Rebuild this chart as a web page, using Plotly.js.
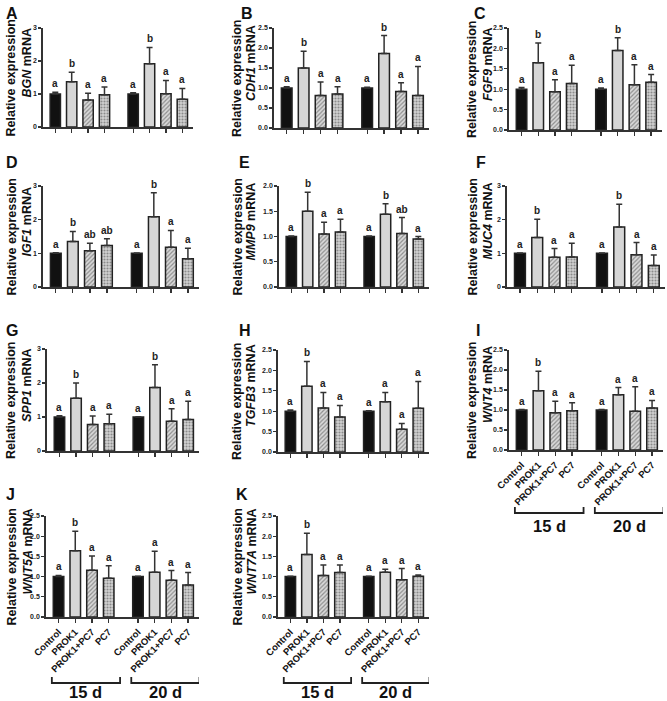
<!DOCTYPE html>
<html><head><meta charset="utf-8">
<script src="https://cdn.plot.ly/plotly-3.0.1.min.js"></script>
<style>html,body{margin:0;padding:0;background:#fff}#chart{width:667px;height:701px}</style>
</head><body><div id="chart"></div>
<script>
// ---------- data ----------
const groups = ["Control", "PROK1", "PROK1+PC7", "PC7"];
const days = ["15 d", "20 d"];
const panelLetters = ["A","B","C","D","E","F","G","H","I","J","K"];
const genes = ["BGN","CDH1","FGF9","IGF1","MMP9","MUC4","SPP1","TGFB3","WNT4","WNT5A","WNT7A"];
const yMax  = [3, 2.5, 2.5, 3, 2.0, 3, 3, 2.5, 2.5, 2.5, 2.5];

const meanBGN   = [1.00, 1.37, 0.82, 0.98, 1.00, 1.92, 1.01, 0.84];
const sdBGN     = [0.05, 0.29, 0.20, 0.23, 0.04, 0.49, 0.40, 0.33];
const sigBGN    = ["a","b","a","a","a","b","a","a"];

const meanCDH1  = [1.00, 1.50, 0.81, 0.85, 1.00, 1.86, 0.91, 0.81];
const sdCDH1    = [0.03, 0.42, 0.34, 0.18, 0.02, 0.45, 0.22, 0.73];
const sigCDH1   = ["a","b","a","a","a","b","a","a"];

const meanFGF9  = [1.00, 1.65, 0.94, 1.14, 1.00, 1.95, 1.11, 1.17];
const sdFGF9    = [0.04, 0.48, 0.29, 0.45, 0.03, 0.31, 0.49, 0.19];
const sigFGF9   = ["a","b","a","a","a","b","a","a"];

const meanIGF1  = [1.00, 1.35, 1.08, 1.23, 1.00, 2.09, 1.18, 0.84];
const sdIGF1    = [0.02, 0.30, 0.22, 0.20, 0.01, 0.71, 0.50, 0.31];
const sigIGF1   = ["a","b","ab","ab","a","b","a","a"];

const meanMMP9  = [1.00, 1.50, 1.05, 1.09, 1.00, 1.44, 1.06, 0.95];
const sdMMP9    = [0.01, 0.375, 0.23, 0.25, 0.01, 0.21, 0.315, 0.05];
const sigMMP9   = ["a","b","a","a","a","b","ab","a"];

const meanMUC4  = [1.00, 1.47, 0.88, 0.89, 1.00, 1.78, 0.96, 0.64];
const sdMUC4    = [0.01, 0.54, 0.26, 0.41, 0.01, 0.68, 0.36, 0.31];
const sigMUC4   = ["a","b","a","a","a","b","a","a"];

const meanSPP1  = [1.00, 1.55, 0.78, 0.80, 1.00, 1.87, 0.875, 0.93];
const sdSPP1    = [0.04, 0.45, 0.25, 0.28, 0.01, 0.67, 0.365, 0.53];
const sigSPP1   = ["a","b","a","a","a","b","a","a"];

const meanTGFB3 = [1.00, 1.61, 1.08, 0.86, 1.00, 1.23, 0.56, 1.07];
const sdTGFB3   = [0.03, 0.61, 0.38, 0.28, 0.01, 0.23, 0.14, 0.66];
const sigTGFB3  = ["a","b","a","a","a","a","a","a"];

const meanWNT4  = [1.00, 1.48, 0.93, 0.98, 1.00, 1.38, 0.97, 1.05];
const sdWNT4    = [0.01, 0.49, 0.29, 0.20, 0.01, 0.18, 0.61, 0.19];
const sigWNT4   = ["a","b","a","a","a","a","a","a"];

const meanWNT5A = [1.00, 1.64, 1.16, 0.96, 1.00, 1.11, 0.91, 0.79];
const sdWNT5A   = [0.03, 0.48, 0.35, 0.31, 0.01, 0.52, 0.24, 0.31];
const sigWNT5A  = ["a","b","a","a","a","a","a","a"];

const meanWNT7A = [1.00, 1.55, 1.03, 1.10, 1.00, 1.11, 0.92, 1.01];
const sdWNT7A   = [0.01, 0.52, 0.26, 0.19, 0.01, 0.07, 0.28, 0.03];
const sigWNT7A  = ["a","b","a","a","a","a","a","a"];

const means = [meanBGN, meanCDH1, meanFGF9, meanIGF1, meanMMP9, meanMUC4, meanSPP1, meanTGFB3, meanWNT4, meanWNT5A, meanWNT7A];
const sds   = [sdBGN, sdCDH1, sdFGF9, sdIGF1, sdMMP9, sdMUC4, sdSPP1, sdTGFB3, sdWNT4, sdWNT5A, sdWNT7A];
const sigs  = [sigBGN, sigCDH1, sigFGF9, sigIGF1, sigMMP9, sigMUC4, sigSPP1, sigTGFB3, sigWNT4, sigWNT5A, sigWNT7A];

// ---------- layout geometry (pixels) ----------
const W = 667, H = 701;
const FONT = 'Arial, "Liberation Sans", Helvetica, sans-serif';
// [left, right, top, bottom] of each plot area
const boxes = [
  [43, 193, 28, 127], [274, 429, 28, 128], [509, 662, 28, 130],
  [43, 199, 186, 287], [279, 429, 186, 287], [507, 665, 186, 287],
  [47, 199, 349, 451], [278, 429, 350, 452], [509, 663, 350, 450],
  [46, 199, 516, 617], [278, 429, 516, 617]
];
const letterPos = [[4,3],[239,3],[472,3],[4,152],[237,152],[474,152],[4,320],[237,320],[474,320],[4,484],[234,484]];
const titleX = [[11,27],[237,251],[472,488]];
const labelPanels = [8, 9, 10];
const bracketY = {8: [507, 513, 526], 9: [677, 683, 692], 10: [677, 683, 692]};

const GAP = 0.75;
const xpos = k => k + (k >= 4 ? GAP : 0);
const px = v => v / W;
const py = v => 1 - v / H;

const barColor = ["#111111", "#d6d6d6", "#d9d9d9", "#d2d2d2"];
const patShape = ["", "", "/", "."];
const patFg = ["#111111", "#d6d6d6", "#3c3c3c", "#4a4a4a"];

const data = [], annotations = [], shapes = [];
const layout = {
  width: W, height: H, margin: {l: 0, r: 0, t: 0, b: 0},
  paper_bgcolor: "#fff", plot_bgcolor: "#fff", showlegend: false,
  font: {family: FONT, color: "#222"},
  bargap: 0
};

genes.forEach((g, i) => {
  const xa = i === 0 ? "x" : "x" + (i + 1);
  const ya = i === 0 ? "y" : "y" + (i + 1);
  const [l, r, t, b] = boxes[i];
  const xs = [], cols = [], shp = [], fg = [], labels = [];
  for (let k = 0; k < 8; k++) {
    xs.push(xpos(k));
    cols.push(barColor[k % 4]);
    shp.push(patShape[k % 4]);
    fg.push(patFg[k % 4]);
    labels.push(groups[k % 4]);
  }
  data.push({
    type: "bar", x: xs, y: means[i], xaxis: xa, yaxis: ya, width: 0.63,
    marker: {color: cols, line: {color: "#222", width: 1.5},
             pattern: {shape: shp, fgcolor: fg, size: 3, solidity: 0.4, fillmode: "overlay"}},
    error_y: {type: "data", symmetric: false, array: sds[i], arrayminus: means[i].map(() => 0),
              thickness: 1.5, width: 3, color: "#333"},
    hoverinfo: "skip"
  });
  const showLab = labelPanels.includes(i);
  const axx = {
    domain: [px(l), px(r)], anchor: ya, range: [-0.75, 8.4],
    showline: true, linecolor: "#333", linewidth: 1.8, showgrid: false, zeroline: false,
    tickmode: "array", tickvals: xs, ticktext: showLab ? labels : labels.map(() => ""),
    showticklabels: showLab, ticks: "outside", ticklen: 4, tickwidth: 1.3, tickcolor: "#333",
    tickangle: -45, tickfont: {family: FONT, size: 9.5, weight: "bold", color: "#111"}
  };
  const dt = yMax[i] === 3 ? 1 : 0.5;
  const axy = {
    domain: [py(b), py(t)], anchor: xa, range: [0, yMax[i]],
    showline: true, linecolor: "#333", linewidth: 1.8, showgrid: false, zeroline: false,
    tickmode: "linear", tick0: 0, dtick: dt, tickformat: dt === 1 ? "d" : ".1f",
    ticks: "outside", ticklen: 3, tickwidth: 1.3, tickcolor: "#333",
    tickfont: {family: FONT, size: 7, weight: "bold", color: "#222"}
  };
  layout["xaxis" + (i === 0 ? "" : i + 1)] = axx;
  layout["yaxis" + (i === 0 ? "" : i + 1)] = axy;

  // significance letters
  for (let k = 0; k < 8; k++) {
    annotations.push({
      xref: xa, yref: ya, x: xpos(k), y: means[i][k] + sds[i][k],
      text: sigs[i][k], showarrow: false, yanchor: "bottom", yshift: 1,
      font: {family: FONT, size: 10, weight: "bold", color: "#222"}
    });
  }
  // panel letter
  annotations.push({
    xref: "paper", yref: "paper", x: px(letterPos[i][0]), y: py(letterPos[i][1]),
    xanchor: "left", yanchor: "top", text: panelLetters[i], showarrow: false,
    font: {family: FONT, size: 16, weight: "bold", color: "#111"}
  });
  // y titles
  const col = i % 3;
  const mid = (t + b) / 2 + 1;
  annotations.push({
    xref: "paper", yref: "paper", x: px(titleX[col][0]), y: py(mid), textangle: -90,
    xanchor: "center", yanchor: "middle", text: "Relative expression", showarrow: false,
    font: {family: FONT, size: 12.5, weight: "bold", color: "#111"}
  });
  annotations.push({
    xref: "paper", yref: "paper", x: px(titleX[col][1]), y: py(mid - 16), textangle: -90,
    xanchor: "center", yanchor: "middle", text: "<i>" + g + "</i> mRNA", showarrow: false,
    font: {family: FONT, size: 12.5, weight: "bold", color: "#111"}
  });
  // brackets + day labels
  if (bracketY[i]) {
    const [yt, yl, ytxt] = bracketY[i];
    days.forEach((d, gi) => {
      const x0 = xpos(gi * 4) - 0.4, x1 = xpos(gi * 4 + 3) + 0.68;
      shapes.push({
        type: "path", xref: xa, yref: "paper",
        path: `M ${x0},${py(yt)} L ${x0},${py(yl)} L ${x1},${py(yl)} L ${x1},${py(yt)}`,
        line: {color: "#222", width: 1.8}
      });
      annotations.push({
        xref: xa, yref: "paper", x: (x0 + x1) / 2, y: py(ytxt), xanchor: "center", yanchor: "middle",
        text: d, showarrow: false, font: {family: FONT, size: 16.5, weight: "bold", color: "#111"}
      });
    });
  }
});

layout.annotations = annotations;
layout.shapes = shapes;
Plotly.newPlot("chart", data, layout, {staticPlot: true, displayModeBar: false});
</script></body></html>
